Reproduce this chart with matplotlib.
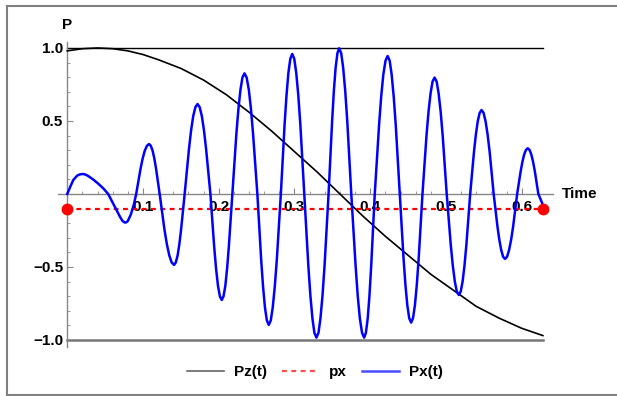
import numpy as np
import matplotlib
matplotlib.use("Agg")
import matplotlib.pyplot as plt
from matplotlib.lines import Line2D

plt.rcParams['font.family'] = ['Liberation Sans', 'DejaVu Sans']
plt.rcParams['font.weight'] = 'bold'

# Pz(t)
t_pz = [0.0, 0.02, 0.04, 0.06, 0.08, 0.10, 0.12, 0.15, 0.18, 0.21, 0.24, 0.27,
        0.30, 0.33, 0.36, 0.39, 0.42, 0.45, 0.48, 0.51, 0.54, 0.57, 0.60, 0.628]
pz = [0.98, 0.995, 1.0, 0.995, 0.98, 0.955, 0.92, 0.86, 0.78, 0.68, 0.56, 0.43,
      0.29, 0.15, 0.0, -0.15, -0.29, -0.42, -0.55, -0.66, -0.77, -0.85, -0.92, -0.97]

# Px(t), one line per half swing
t_px = [0.000, 0.004, 0.008, 0.013, 0.016, 0.020, 0.024, 0.027, 0.034, 0.041, 0.048, 0.054,
        0.060, 0.065, 0.070, 0.073, 0.076, 0.078, 0.080, 0.084, 0.088, 0.091,
        0.0967, 0.0995, 0.1023, 0.1052, 0.108, 0.1103, 0.1127, 0.115, 0.1173, 0.122,
        0.1283, 0.1315, 0.1347, 0.1378, 0.141, 0.1433, 0.1457, 0.148, 0.1503, 0.155,
        0.1607, 0.1635, 0.1663, 0.1692, 0.172, 0.1748, 0.1777, 0.1805, 0.1833, 0.189,
        0.194, 0.1965, 0.199, 0.2015, 0.204, 0.2063, 0.2087, 0.211, 0.2133, 0.218,
        0.2233, 0.226, 0.2287, 0.2313, 0.234, 0.2368, 0.2397, 0.2425, 0.2453, 0.251,
        0.256, 0.2585, 0.261, 0.2635, 0.266, 0.2687, 0.2713, 0.274, 0.2767, 0.282,
        0.287, 0.2895, 0.292, 0.2945, 0.297, 0.2997, 0.3023, 0.305, 0.3077, 0.313,
        0.3183, 0.321, 0.3237, 0.3263, 0.329, 0.3317, 0.3343, 0.337, 0.3397, 0.345,
        0.3497, 0.352, 0.3543, 0.3567, 0.359, 0.3617, 0.3643, 0.367, 0.3697, 0.375,
        0.3807, 0.3835, 0.3863, 0.3892, 0.392, 0.3943, 0.3967, 0.399, 0.4013, 0.406,
        0.4117, 0.4145, 0.4173, 0.4202, 0.423, 0.4257, 0.4283, 0.431, 0.4337, 0.439,
        0.444, 0.4465, 0.449, 0.4515, 0.454, 0.4565, 0.459, 0.4615, 0.464, 0.469,
        0.4743, 0.477, 0.4797, 0.4823, 0.485, 0.4877, 0.4903, 0.493, 0.4957, 0.501,
        0.5063, 0.509, 0.5117, 0.5143, 0.517, 0.5195, 0.522, 0.5245, 0.527, 0.532,
        0.537, 0.5395, 0.542, 0.5445, 0.547, 0.5497, 0.5523, 0.555, 0.5577, 0.563,
        0.568, 0.5705, 0.573, 0.5755, 0.578, 0.5807, 0.5833, 0.586, 0.5887, 0.594,
        0.5987, 0.601, 0.6033, 0.6057, 0.608, 0.6103, 0.6127, 0.615, 0.6173, 0.622,
        0.625, 0.628]
px_t = [0.000, 0.050, 0.096, 0.125, 0.133, 0.137, 0.133, 0.125, 0.100, 0.070, 0.036, 0.000,
        -0.060, -0.110, -0.160, -0.185, -0.196, -0.194, -0.185, -0.140, -0.070, 0.000,
        0.171, 0.242, 0.296, 0.330, 0.342, 0.330, 0.296, 0.242, 0.171, 0.0,
        -0.243, -0.344, -0.421, -0.469, -0.486, -0.469, -0.421, -0.344, -0.243, 0.0,
        0.308, 0.436, 0.533, 0.595, 0.616, 0.595, 0.533, 0.436, 0.308, 0.0,
        -0.363, -0.513, -0.629, -0.701, -0.726, -0.701, -0.629, -0.513, -0.363, 0.0,
        0.413, 0.584, 0.715, 0.798, 0.826, 0.798, 0.715, 0.584, 0.413, 0.0,
        -0.449, -0.634, -0.777, -0.866, -0.897, -0.866, -0.777, -0.634, -0.449, 0.0,
        0.480, 0.678, 0.831, 0.926, 0.959, 0.926, 0.831, 0.678, 0.480, 0.0,
        -0.492, -0.696, -0.852, -0.951, -0.984, -0.951, -0.852, -0.696, -0.492, 0.0,
        0.499, 0.706, 0.864, 0.964, 0.998, 0.964, 0.864, 0.706, 0.499, 0.0,
        -0.492, -0.696, -0.852, -0.951, -0.984, -0.951, -0.852, -0.696, -0.492, 0.0,
        0.473, 0.668, 0.818, 0.913, 0.945, 0.913, 0.818, 0.668, 0.473, 0.0,
        -0.441, -0.623, -0.763, -0.851, -0.881, -0.851, -0.763, -0.623, -0.441, 0.0,
        0.399, 0.564, 0.690, 0.770, 0.797, 0.770, 0.690, 0.564, 0.399, 0.0,
        -0.346, -0.489, -0.599, -0.668, -0.692, -0.668, -0.599, -0.489, -0.346, 0.0,
        0.288, 0.407, 0.498, 0.555, 0.575, 0.555, 0.498, 0.407, 0.288, 0.0,
        -0.223, -0.315, -0.385, -0.430, -0.445, -0.430, -0.385, -0.315, -0.223, 0.0,
        0.157, 0.221, 0.271, 0.302, 0.313, 0.302, 0.271, 0.221, 0.157, 0.0,
        -0.038, -0.075]

# px reference line
t_ref = [0.0, 0.628]
px_ref = [-0.1, -0.1]

xticks = [0.1, 0.2, 0.3, 0.4, 0.5, 0.6]
xticklabels = ["0.1", "0.2", "0.3", "0.4", "0.5", "0.6"]
yticks = [-1.0, -0.5, 0.5, 1.0]
yticklabels = ["\u22121.0", "\u22120.5", "0.5", "1.0"]

fig = plt.figure(figsize=(6.17, 3.96), dpi=100)
ax = fig.add_axes([40/617, 1 - 355/396, 565/617, 345/396])
ax.set_xlim(-0.036, 0.710)
ax.set_ylim(-1.103, 1.260)
ax.patch.set_alpha(0)

axcol = '#888888'
for s in ['top', 'right']:
    ax.spines[s].set_visible(False)
ax.spines['left'].set_position(('data', 0))
ax.spines['bottom'].set_position(('data', 0))
ax.spines['left'].set_bounds(-1.05, 1.04)
ax.spines['bottom'].set_bounds(-0.012, 0.641)
for s in ['left', 'bottom']:
    ax.spines[s].set_color(axcol)
    ax.spines[s].set_linewidth(1.0)

ax.set_xticks(xticks)
ax.set_xticklabels(xticklabels)
ax.set_xticks(np.arange(0.02, 0.64, 0.02), minor=True)
ax.set_yticks(yticks)
ax.set_yticklabels(yticklabels)
ax.set_yticks([v / 10 for v in range(-10, 11) if v != 0], minor=True)
ax.tick_params(which='major', direction='in', length=4, width=0.8, color=axcol,
               labelsize=11, labelcolor='black')
ax.tick_params(which='minor', direction='in', length=2.5, width=0.6, color=axcol)
ax.tick_params(axis='x', which='major', pad=4)
ax.tick_params(axis='y', which='major', pad=3)
for lab in ax.get_xticklabels() + ax.get_yticklabels():
    lab.set_fontweight('bold')

# reference lines at +1 and -1
ax.plot([0, 0.628], [1, 1], color='black', lw=1.0, zorder=2)
ax.plot([0, 0.628], [-1, -1], color='#777777', lw=1.8, zorder=2)

ax.plot(t_pz, pz, color='black', lw=1.2, zorder=3)
ax.plot(t_ref, px_ref, color='#ff0000', lw=1.6, ls=(0, (2.2, 2.0)), zorder=3)
ax.plot(t_px, px_t, color='#0000ff', lw=1.8, solid_joinstyle='round', zorder=4)
ax.plot(t_ref, px_ref, 'o', color='#ff0000', ms=7.5, zorder=5, clip_on=False)

ax.text(0, 1.16, "P", ha='center', va='center', fontsize=11, fontweight='bold')
ax.text(0.6535, 0.0, "Time", ha='left', va='center', fontsize=11, fontweight='bold')

handles = [Line2D([], [], color='black', lw=1.2, alpha=0.6),
           Line2D([], [], color='#ff0000', lw=1.6, ls=(0, (2.2, 2.0)), alpha=0.7),
           Line2D([], [], color='#0000ff', lw=1.8, alpha=0.7)]
fig.legend(handles, ["Pz(t)", "px", "Px(t)"], loc='center', ncol=3,
           bbox_to_anchor=(315/617, 1 - 372/396), frameon=False,
           prop={'weight': 'bold', 'size': 11}, handlelength=2.4,
           handletextpad=0.65, columnspacing=1.0)

# outer frame
fcol = '#808080'
fig.add_artist(Line2D([7/617, 1.0], [1 - 6/396, 1 - 6/396], color=fcol, lw=1.5))
fig.add_artist(Line2D([7/617, 1.0], [1 - 395/396, 1 - 395/396], color=fcol, lw=1.5))
fig.add_artist(Line2D([7/617, 7/617], [1 - 6/396, 1 - 395/396], color=fcol, lw=1.5))

fig.savefig("out.png", dpi=100)
